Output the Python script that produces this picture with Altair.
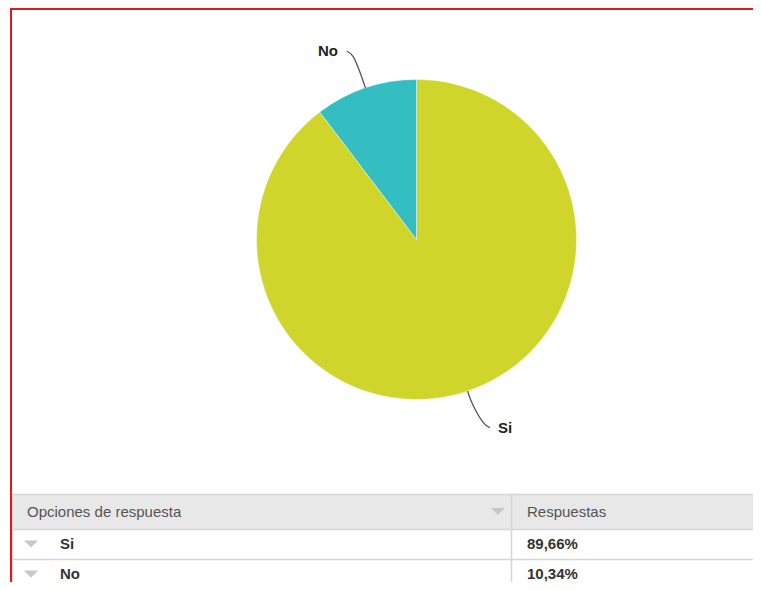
import math
import altair as alt
import pandas as pd

# ---------------- data ----------------
labels = ["Si", "No"]
values = [89.66, 10.34]
colors = ["#cfd52b", "#34bec1"]
header_labels = ["Opciones de respuesta", "Respuestas"]

# ---------------- layout (chart coordinates, page minus 8px margin) ----------------
W, H = 745, 574
CX, CY, R = 408.5, 231.5, 160
LABEL_R, LABEL_SHIFT = 208, -6.6
FONT = "Liberation Sans"
FS = 15

pie_df = pd.DataFrame({"label": labels, "value": values, "order": range(len(labels))})

# derive label / leader geometry from the data
total = sum(values)
rows_lab, rows_line = [], []
start = 0.0
for lab, v in zip(labels, values):
    ang = 360 * v / total
    mid = math.radians(start + ang / 2)
    start += ang
    la = mid + math.radians(LABEL_SHIFT)
    lx, ly = CX + LABEL_R * math.sin(la), CY - LABEL_R * math.cos(la)
    ex, ey = CX + R * math.sin(mid), CY - R * math.cos(mid)
    ox, oy = CX + (R + 15) * math.sin(mid), CY - (R + 15) * math.cos(mid)
    hx = 1 if lx < CX else -1
    vy = 1 if ly < CY else -1
    half = 11 if lab == "No" else 7
    p0x = lx + hx * (half + 8)
    pts = [(p0x, ly), (p0x + hx * 6, ly + vy * 2.5), (ox, oy), (ex, ey)]
    rows_lab.append({"label": lab, "x": lx, "y": ly})
    for i, (px, py) in enumerate(pts):
        rows_line.append({"label": lab, "x": px, "y": py, "k": i})
lab_df = pd.DataFrame(rows_lab)
line_df = pd.DataFrame(rows_line)

xs = alt.Scale(domain=[0, W], range=[0, W])
ys = alt.Scale(domain=[0, H], range=[0, H])

pie = alt.Chart(pie_df).mark_arc(radius=R, stroke="#ffffff", strokeWidth=0.4).encode(
    theta=alt.Theta("value:Q", stack=True),
    color=alt.Color("label:N", scale=alt.Scale(domain=labels, range=colors), legend=None),
    order=alt.Order("order:Q"),
    x=alt.value(CX),
    y=alt.value(CY),
)

leaders = alt.Chart(line_df).mark_line(interpolate="basis", color="#555555", strokeWidth=1.3).encode(
    x=alt.X("x:Q", scale=xs, axis=None),
    y=alt.Y("y:Q", scale=ys, axis=None),
    detail="label:N",
    order="k:Q",
)

pie_labels = alt.Chart(lab_df).mark_text(font=FONT, fontSize=FS, fontWeight="bold", color="#222222").encode(
    x=alt.X("x:Q", scale=xs, axis=None),
    y=alt.Y("y:Q", scale=ys, axis=None),
    text="label:N",
)

# ---------------- table ----------------
TBL_X0, TBL_TOP, HDR_H, ROW_H, COL2 = 4, 486, 35, 30, 503
dummy = pd.DataFrame({"a": [0]})

header_bg = alt.Chart(dummy).mark_rect(color="#e8e8e8").encode(
    x=alt.value(TBL_X0), x2=alt.value(W), y=alt.value(TBL_TOP), y2=alt.value(TBL_TOP + HDR_H)
)

hlines_df = pd.DataFrame({"y": [TBL_TOP + 0.5, TBL_TOP + HDR_H + 0.5, TBL_TOP + HDR_H + ROW_H + 0.5]})
hlines = alt.Chart(hlines_df).mark_rule(color="#d6d6d6", strokeWidth=1.5).encode(
    y=alt.Y("y:Q", scale=ys, axis=None), x=alt.value(TBL_X0), x2=alt.value(W)
)
vlines_df = pd.DataFrame({"x": [TBL_X0 + 0.5, COL2 + 0.5]})
vlines = alt.Chart(vlines_df).mark_rule(color="#d6d6d6", strokeWidth=1.5).encode(
    x=alt.X("x:Q", scale=xs, axis=None), y=alt.value(TBL_TOP), y2=alt.value(H)
)

hdr_df = pd.DataFrame({"text": header_labels, "x": [19, COL2 + 16], "y": [TBL_TOP + HDR_H / 2] * 2})
hdr_text = alt.Chart(hdr_df).mark_text(font=FONT, fontSize=FS, color="#555555", align="left").encode(
    x=alt.X("x:Q", scale=xs, axis=None), y=alt.Y("y:Q", scale=ys, axis=None), text="text:N"
)

row_y = [TBL_TOP + HDR_H + ROW_H * (i + 0.5) for i in range(len(labels))]
pct = [f"{v:.2f}".replace(".", ",") + "%" for v in values]
rows_df = pd.DataFrame({"label": labels, "pct": pct, "y": row_y})

row_lab = alt.Chart(rows_df).mark_text(font=FONT, fontSize=FS, fontWeight="bold", color="#333333", align="left").encode(
    x=alt.value(52), y=alt.Y("y:Q", scale=ys, axis=None), text="label:N"
)
row_pct = alt.Chart(rows_df).mark_text(font=FONT, fontSize=FS, fontWeight="bold", color="#333333", align="left").encode(
    x=alt.value(COL2 + 16), y=alt.Y("y:Q", scale=ys, axis=None), text="pct:N"
)

tri_df = pd.DataFrame({"x": [23, 23, 490], "y": row_y + [TBL_TOP + HDR_H / 2]})
tris = alt.Chart(tri_df).mark_point(
    shape="M-1,-0.5L1,-0.5L0,0.5Z", filled=True, size=200, color="#c8c8c8", opacity=1
).encode(
    x=alt.X("x:Q", scale=xs, axis=None), y=alt.Y("y:Q", scale=ys, axis=None)
)

# ---------------- red frame ----------------
frame_left = alt.Chart(dummy).mark_rule(color="#d91c1c", strokeWidth=2).encode(
    x=alt.value(3), y=alt.value(0), y2=alt.value(H)
)
frame_top = alt.Chart(dummy).mark_rule(color="#d91c1c", strokeWidth=2).encode(
    x=alt.value(3), x2=alt.value(W), y=alt.value(1)
)

chart = alt.layer(
    header_bg, hlines, vlines, hdr_text, row_lab, row_pct, tris,
    pie, leaders, pie_labels, frame_left, frame_top,
).properties(
    width=W, height=H, autosize=alt.AutoSizeParams(type="none"), padding=0,
).configure_view(stroke=None)

chart.save("out.html", embed_options={"renderer": "svg", "actions": False})
